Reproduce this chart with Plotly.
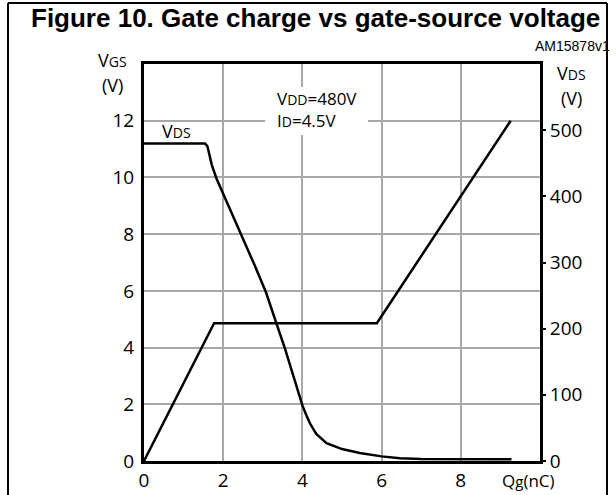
import plotly.graph_objects as go

# ---- data ----
qg_vgs = [0, 1.77, 5.88, 9.26]
vgs = [0, 4.86, 4.86, 12.0]

qg_vds = [0, 1.54, 1.60, 1.64, 1.71, 1.83, 2.0, 2.47, 2.8, 3.08, 3.2, 3.35, 3.56, 3.8, 4.0,
          4.1, 4.19, 4.35, 4.61, 5.0, 5.45, 6.0, 6.46, 7.0, 8.0, 9.28]
vds = [480, 480, 476, 466, 448, 427, 404, 342, 295, 255, 235, 207, 170, 125, 84,
       69, 57, 41, 27, 18, 12, 7, 4, 3, 2.5, 2.5]

x_ticks = [0, 2, 4, 6, 8]
vgs_ticks = [0, 2, 4, 6, 8, 10, 12]
vds_ticks = [0, 100, 200, 300, 400, 500]

W, H = 616, 495
L, R, T, B = 144, 540, 64, 461


def px(x):
    return (x - L) / (R - L)


def py(y):
    return (B - y) / (B - T)


TICKFONT = dict(family="Open Sans", size=19, color="black")
GRID = "#a8a8a8"

fig = go.Figure()
fig.add_trace(go.Scatter(x=qg_vgs, y=vgs, mode="lines",
                         line=dict(color="black", width=2.5), showlegend=False))
fig.add_trace(go.Scatter(x=qg_vds, y=vds, mode="lines", yaxis="y2",
                         line=dict(color="black", width=2.5), showlegend=False))

fig.update_layout(
    width=W, height=H,
    margin=dict(l=L, r=W - R, t=T, b=H - B, autoexpand=False),
    paper_bgcolor="white", plot_bgcolor="white",
    xaxis=dict(range=[0, 10], tickvals=x_ticks, showgrid=True, gridcolor=GRID,
               gridwidth=1.5, zeroline=False, showline=True, linecolor="black",
               linewidth=3, mirror=True, ticks="", tickfont=TICKFONT,
               ticklabelstandoff=0, automargin=False),
    yaxis=dict(range=[0, 14], tickvals=vgs_ticks, showgrid=True, gridcolor=GRID,
               gridwidth=1.5, zeroline=False, showline=True, linecolor="black",
               linewidth=3, mirror=True, ticks="", tickfont=TICKFONT,
               ticklabelstandoff=3, automargin=False),
    yaxis2=dict(range=[0, 600], tickvals=vds_ticks, overlaying="y", side="right",
                showgrid=False, zeroline=False, showline=False, ticks="outside",
                ticklen=5, tickwidth=2, tickcolor="black", tickfont=TICKFONT,
                automargin=False),
)

shapes = [
    dict(type="rect", xref="paper", yref="paper", x0=px(265), x1=px(368),
         y0=py(135), y1=py(87), fillcolor="white", line=dict(width=0), layer="above"),
    dict(type="line", xref="paper", yref="paper", x0=px(8), x1=px(8), y0=py(3), y1=py(500),
         line=dict(color="black", width=2)),
    dict(type="line", xref="paper", yref="paper", x0=px(607), x1=px(607), y0=py(3), y1=py(500),
         line=dict(color="black", width=2)),
    dict(type="line", xref="paper", yref="paper", x0=px(8), x1=px(607), y0=py(3), y1=py(3),
         line=dict(color="black", width=2)),
]
fig.update_layout(shapes=shapes)

SM = "font-size:14px"


def ann(text, x, y, size=18, family="Open Sans", xanchor="center", align="center"):
    fig.add_annotation(text=text, xref="paper", yref="paper", x=px(x), y=py(y),
                       xanchor=xanchor, yanchor="middle", showarrow=False, align=align,
                       font=dict(family=family, size=size, color="black"))


ann("<b>Figure 10. Gate charge vs gate-source voltage</b>", 315, 18, size=26,
    family="Liberation Sans")
ann("AM15878v1", 612, 46, size=14, family="Liberation Sans", xanchor="right")
ann(f"V<span style='{SM}'>GS</span>", 112, 60)
ann("(V)", 112, 85)
ann(f"V<span style='{SM}'>DS</span>", 571, 73)
ann("(V)", 571, 98)
ann(f"V<span style='{SM}'>DS</span>", 176, 131)
ann(f"V<span style='{SM}'>DD</span>=480V<br>I<span style='{SM}'>D</span>=4.5V",
    275, 109, size=17, xanchor="left", align="left")
ann(f"Q<span style='font-size:15px'>g</span>(nC)", 528, 480.5, size=17)

fig.write_html("out.html", post_script="document.body.style.margin='0';",
               config={"displayModeBar": False})
